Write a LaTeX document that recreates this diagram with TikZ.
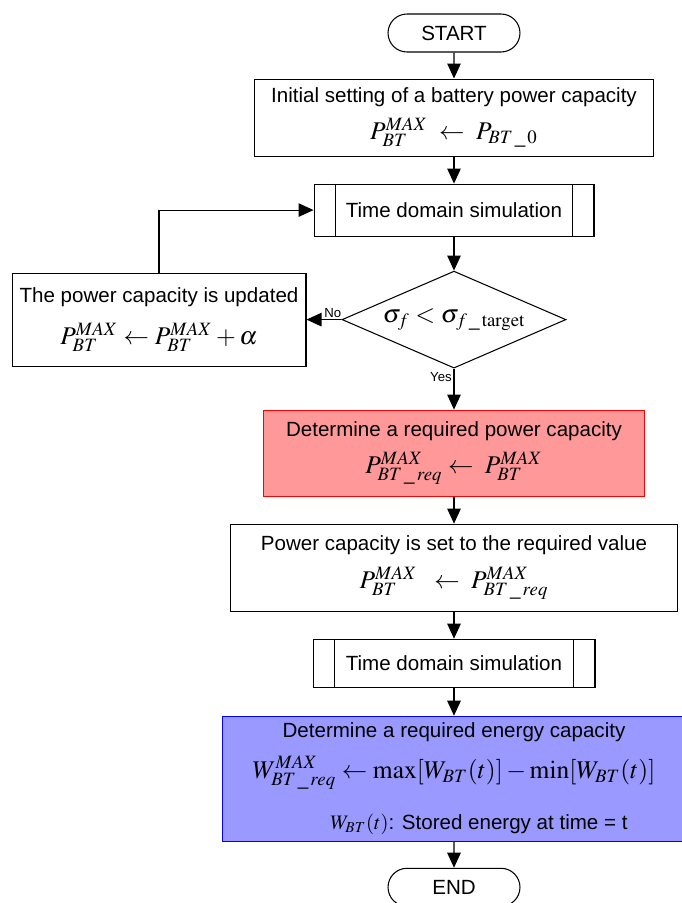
\documentclass[tikz,border=0pt]{standalone}
\usepackage{amsmath}
\usepackage{mathptmx}
\usepackage{fontspec}
\setmainfont{Liberation Sans}
\usetikzlibrary{arrows.meta, positioning, shapes.geometric, shapes.misc}

\definecolor{reqred}{RGB}{255,153,153}
\definecolor{reqblue}{RGB}{153,153,255}

% bigger size for the update formulas
\newcommand{\eqline}[1]{{\fontsize{14.5}{17}\selectfont $#1$}}
% small underscore inside subscripts
\newcommand{\usc}{\,\text{\_}\,}

\begin{document}
\begin{tikzpicture}[
        x=0.02cm, y=-0.02cm,
        line width=0.6pt,
        every node/.style={font=\fontsize{11.7}{13}\selectfont, align=center},
        termbox/.style={draw, rounded rectangle, minimum width=2.64cm, minimum height=0.76cm, inner sep=0pt},
        procbox/.style={draw, inner sep=0pt},
        simbox/.style={draw, inner sep=0pt},
        arrow/.style={-{Triangle[length=0.3cm, width=0.27cm]}}
        ]

        \useasboundingbox (0,0) rectangle (681,903);

        % Nodes
        \node[termbox] (start) at (454,33) {START};
        \node[procbox, below=0.52cm of start, minimum width=8cm, minimum height=1.54cm] (init)
            {Initial setting of a battery power capacity\\[5pt]
             \eqline{P_{BT}^{MAX} \;\leftarrow\; P_{BT\usc 0}}};
        \node[simbox, below=0.54cm of init, minimum width=5.6cm, minimum height=1.04cm] (sim1) {Time domain simulation};
        \node[draw, diamond, aspect=2.3, inner sep=0pt, below=0.68cm of sim1, minimum width=4.48cm, minimum height=1.94cm] (check)
            {\eqline{\sigma_f < \sigma_{f\usc\mathrm{target}}}};
        \node[procbox, left=0.7cm of check, minimum width=5.88cm, minimum height=1.86cm] (update)
            {The power capacity is updated\\[8pt]
             \eqline{P_{BT}^{MAX} \leftarrow P_{BT}^{MAX} + \alpha}};
        \node[procbox, fill=reqred, draw=red, below=0.82cm of check, minimum width=7.62cm, minimum height=1.72cm] (reqpower)
            {Determine a required power capacity\\[5pt]
             \eqline{P_{BT\usc req}^{MAX} \leftarrow\; P_{BT}^{MAX}}};
        \node[procbox, below=0.54cm of reqpower, minimum width=8.96cm, minimum height=1.74cm] (setpower)
            {Power capacity is set to the required value\\[6pt]
             \eqline{P_{BT}^{MAX} \;\;\leftarrow\; P_{BT\usc req}^{MAX}}};
        \node[simbox, below=0.54cm of setpower, minimum width=5.64cm, minimum height=0.96cm] (sim2) {Time domain simulation};
        \node[procbox, fill=reqblue, draw=blue, below=0.56cm of sim2, minimum width=9.28cm, minimum height=2.5cm] (reqenergy)
            {Determine a required energy capacity\\[7pt]
             \eqline{W_{BT\usc req}^{MAX} \leftarrow \max[W_{BT}(t)] - \min[W_{BT}(t)]}\\[13pt]
             \hspace*{1cm}$W_{BT}(t)$: Stored energy at time = t};
        \node[termbox, below=0.52cm of reqenergy] (finish) {END};

        % side bars of the simulation blocks
        \foreach \s in {sim1, sim2} {
            \draw ([xshift=0.44cm]\s.north west) -- ([xshift=0.44cm]\s.south west);
            \draw ([xshift=-0.44cm]\s.north east) -- ([xshift=-0.44cm]\s.south east);
        }

        \draw [arrow] (start) -- (init);
        \draw [arrow] (init) -- (sim1);
        \draw [arrow] (sim1) -- (check);
        \draw [arrow] (check.west) -- node[above, pos=0.25, inner sep=1pt, font=\fontsize{7.5}{8}\selectfont] {No} (update.east);
        \draw [arrow] (update.north) |- (sim1.west);
        \draw [arrow] (check.south) -- node[left, pos=0.2, inner sep=1pt, font=\fontsize{7.5}{8}\selectfont] {Yes} (reqpower);
        \draw [arrow] (reqpower) -- (setpower);
        \draw [arrow] (setpower) -- (sim2);
        \draw [arrow] (sim2) -- (reqenergy);
        \draw [arrow] (reqenergy) -- (finish);

    \end{tikzpicture}
\end{document}
